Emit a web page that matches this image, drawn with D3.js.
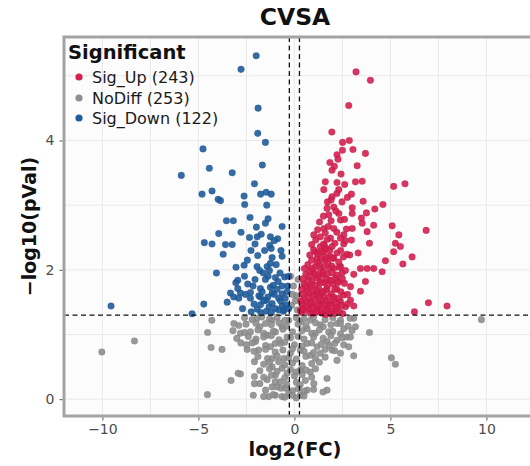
<!DOCTYPE html>
<html>
<head>
<meta charset="utf-8">
<script src="https://cdn.jsdelivr.net/npm/d3@7"></script>
<style>
  html, body { margin: 0; padding: 0; background: #fff; }
  svg { display: block; font-family: "DejaVu Sans", "Liberation Sans", Arial, sans-serif; }
</style>
</head>
<body>
<div id="chart"></div>
<script>
// categories and legend counts
const groups = ["Sig_Up", "NoDiff", "Sig_Down"];
const groupCounts = [243, 253, 122];
const groupColors = ["#d51f4f", "#8e8e8e", "#1f5c9c"];

const xTicks = [-10, -5, 0, 5, 10];
const yTicks = [0, 2, 4];
const xGrid = [-10, -7.5, -5, -2.5, 0, 2.5, 5, 7.5, 10];
const yGrid = [0, 1, 2, 3, 4, 5];

// [log2(FC), -log10(pVal)]
const sigUp = [
  [3.21,5.06],[3.96,4.93],[2.83,4.54],[1.95,4.13],[2.51,3.97],[2.86,4.00],[2.50,3.85],[3.05,3.86],[3.70,3.80],[2.22,3.78],
  [2.27,3.71],[1.85,3.66],[2.08,3.60],[3.27,3.61],[1.96,3.54],[2.43,3.48],[1.61,3.36],[2.22,3.35],[3.18,3.36],[3.53,3.37],
  [5.17,3.29],[5.76,3.33],[1.53,3.24],[2.31,3.24],[1.96,3.13],[2.97,3.17],[2.48,3.05],[1.91,3.08],[3.58,3.06],[1.70,2.95],
  [2.05,2.97],[3.01,2.96],[4.19,2.94],[4.61,3.01],[1.79,2.85],[2.31,2.87],[3.01,2.87],[3.75,2.88],[2.40,2.77],[3.49,2.80],
  [3.53,2.72],[4.13,2.69],[5.09,2.68],[6.86,2.61],[1.53,2.64],[2.05,2.64],[3.01,2.64],[2.57,2.54],[3.79,2.59],[5.44,2.54],
  [1.35,2.51],[1.88,2.49],[2.40,2.49],[2.97,2.46],[3.91,2.41],[5.26,2.41],[1.35,2.36],[1.96,2.36],[2.57,2.40],[5.52,2.36],
  [1.09,2.28],[1.53,2.28],[2.22,2.26],[2.88,2.23],[3.32,2.26],[5.17,2.28],[6.13,2.20],[1.18,2.18],[1.61,2.15],[2.05,2.18],
  [4.74,2.14],[5.65,2.09],[1.09,2.05],[1.53,2.05],[2.05,2.02],[2.40,2.05],[3.44,2.02],[3.79,2.02],[4.13,2.02],[4.57,1.97],
  [1.01,1.95],[1.44,1.92],[1.96,1.95],[2.48,1.95],[3.09,1.93],[0.92,1.84],[1.35,1.82],[1.79,1.84],[2.31,1.82],[3.70,1.82],
  [0.83,1.74],[1.27,1.71],[1.70,1.71],[2.92,1.74],[3.44,1.67],[0.74,1.64],[1.18,1.61],[1.53,1.58],[2.05,1.58],[2.57,1.61],
  [0.83,1.51],[1.27,1.51],[1.88,1.48],[2.40,1.51],[2.92,1.53],[0.74,1.40],[1.18,1.40],[1.70,1.40],[2.22,1.42],[2.66,1.43],
  [3.09,1.44],[0.83,1.33],[1.44,1.33],[1.88,1.32],[6.98,1.49],[7.95,1.44],[6.25,1.35],
  [0.36,1.34],[0.55,1.37],[0.97,1.33],[1.28,1.36],[1.56,1.35],[1.63,1.31],[2.02,1.36],[2.12,1.33],[2.36,1.35],[2.52,1.32],
  [0.40,1.47],[0.61,1.50],[0.95,1.46],[1.06,1.55],[1.40,1.47],[1.66,1.52],[1.77,1.46],[2.15,1.49],[2.30,1.56],[2.76,1.47],
  [0.45,1.62],[0.63,1.69],[0.98,1.66],[1.40,1.64],[1.61,1.68],[1.91,1.63],[2.21,1.70],[2.42,1.66],[2.77,1.62],
  [0.50,1.78],[0.71,1.83],[1.05,1.77],[1.15,1.88],[1.55,1.80],[1.66,1.86],[2.01,1.78],[2.16,1.87],[2.61,1.79],
  [0.60,1.93],[0.81,1.98],[1.25,1.91],[1.36,2.01],[1.70,1.94],[1.82,2.03],[2.22,1.92],[2.66,1.99],
  [0.70,2.08],[0.90,2.15],[1.30,2.09],[1.42,2.18],[1.75,2.11],[1.95,2.06],[2.31,2.12],
  [0.80,2.23],[1.00,2.31],[1.21,2.25],[1.66,2.33],[1.86,2.21],[2.41,2.30],[2.72,2.24],
  [0.90,2.39],[1.11,2.46],[1.56,2.38],[1.71,2.47],[2.11,2.41],[2.66,2.45],
  [1.01,2.54],[1.21,2.62],[1.61,2.57],[1.76,2.67],[2.21,2.58],[2.71,2.63],
  [1.31,2.74],[1.51,2.83],[1.91,2.76],[2.16,2.91],[2.61,2.78],
  [1.72,3.05],[2.21,3.18],[2.62,3.32],[2.76,3.12],
  [0.42,1.40],[0.50,1.56],[0.58,1.74],[0.66,1.44],[0.74,1.58],[0.78,1.90],[0.86,1.48],[0.88,1.76],[0.92,2.02],[1.00,1.42],
  [1.02,1.60],[1.08,1.94],[1.12,1.34],[1.16,1.68],[1.20,2.12],[1.24,1.45],[1.32,1.56],[1.34,1.80],[1.38,2.28],[1.46,1.38],
  [1.48,1.66],[1.50,1.96],[1.52,2.40],[1.58,1.48],[1.64,2.20],[1.68,1.38],[1.72,1.76],[1.80,1.58],[1.84,2.30],[1.90,1.44],
  [1.94,1.84],[2.00,2.18],[2.06,1.54],[2.10,1.70],[2.18,1.40],[2.26,1.80],[2.34,2.04],[2.45,1.45],[2.50,1.86],[2.55,2.20],
  [0.32,1.38],[0.34,1.52],[0.38,1.70],[0.44,1.86],[0.52,2.02]
];

const noDiff = [
  [-4.30,1.22],[-4.52,1.03],[-4.34,0.80],[-3.77,0.77],[-8.33,0.90],[-10.03,0.73],[-4.53,0.07],[-3.30,0.29],[-2.81,0.39],[-2.08,0.35],
  [-2.08,0.24],[-2.14,0.06],[-2.08,0.58],[-3.15,1.17],[-2.52,1.16],[-2.81,1.02],[-2.29,1.04],[-2.79,0.87],[-2.03,0.89],[-2.46,0.77],
  [-1.86,0.76],[-1.94,1.25],[-1.51,1.17],[-1.16,1.22],[-0.99,1.04],[-1.42,0.99],[-0.64,1.12],[-0.38,0.96],[-0.73,0.86],[-1.25,0.81],
  [-0.30,1.22],[0.31,1.20],[0.66,1.09],[0.83,1.22],[1.09,1.02],[1.35,1.15],[1.79,1.04],[2.22,1.17],[2.57,1.09],[2.74,0.96],
  [2.22,0.91],[1.70,0.89],[1.18,0.81],[0.66,0.86],[0.31,0.76],[0.83,0.68],[1.35,0.71],[1.96,0.76],[2.40,0.71],[2.22,0.60],
  [-0.21,0.71],[-0.56,0.63],[-1.16,0.63],[-0.82,0.58],[-1.16,0.50],[-0.64,0.48],[-0.99,0.37],[-0.38,0.40],[0.31,0.45],[0.83,0.42],
  [0.57,0.29],[1.01,0.24],[1.70,0.32],[1.70,0.14],[-1.42,0.30],[-1.16,0.19],[-0.73,0.27],[-0.47,0.17],[-0.99,0.06],[-0.64,0.04],
  [-0.30,0.09],[0.31,0.06],[0.66,0.14],[-1.34,0.04],[-0.90,0.19],[9.74,1.23],[3.91,1.03],[5.05,0.64],[5.26,0.54],[3.09,0.67],
  [2.92,0.96],[2.57,0.84],[2.83,0.81],[3.09,1.25],[3.18,1.12],[1.49,0.11],[-2.93,0.40],
  [-0.15,1.45],[0.10,1.60],[-0.05,1.75],[0.15,1.38],[-0.20,1.90],[0.05,1.52],[0.20,1.85],[-0.10,1.62],
  [-2.6,1.26],[-2.2,1.23],[-1.7,1.27],[-1.3,1.24],[-0.9,1.27],[-0.5,1.22],[0.1,1.26],[0.5,1.24],[1.0,1.27],[1.6,1.23],[2.0,1.26],[2.4,1.22],[2.9,1.25],
  [-2.9,1.14],[-2.0,1.17],[-1.8,1.12],[-1.2,1.15],[-0.8,1.18],[-0.4,1.13],[0.2,1.16],[0.6,1.14],[1.1,1.18],[1.5,1.12],[1.9,1.15],[2.4,1.17],[2.8,1.13],
  [-3.2,1.06],[-2.6,1.03],[-1.9,1.07],[-1.6,1.02],[-1.1,1.05],[-0.6,1.08],[-0.1,1.04],[0.4,1.06],[0.9,1.02],[1.3,1.07],[2.0,1.05],[2.4,1.01],[3.0,1.06],
  [-3.0,0.94],[-2.4,0.97],[-2.0,0.93],[-1.6,0.96],[-1.2,0.98],[-0.8,0.92],[-0.2,0.95],[0.2,0.97],[0.5,0.93],[1.0,0.96],[1.5,0.94],[1.9,0.98],[2.5,0.95],
  [-2.5,0.84],[-2.2,0.87],[-1.5,0.83],[-1.0,0.86],[-0.5,0.88],[0.0,0.84],[0.4,0.82],[0.9,0.87],[1.4,0.85],[1.8,0.83],[2.1,0.86],
  [-2.1,0.74],[-1.5,0.77],[-1.0,0.73],[-0.6,0.76],[-0.1,0.78],[0.5,0.74],[1.0,0.72],[1.6,0.77],[2.1,0.75],
  [-1.9,0.66],[-1.4,0.63],[-0.9,0.67],[-0.3,0.64],[0.1,0.62],[0.6,0.66],[1.1,0.63],[1.6,0.65],
  [-1.6,0.54],[-1.3,0.57],[-0.5,0.53],[-0.1,0.56],[0.4,0.52],[0.9,0.55],[1.3,0.57],
  [-1.8,0.44],[-1.3,0.47],[-0.9,0.43],[-0.2,0.46],[0.1,0.42],[0.6,0.45],[1.1,0.47],
  [-1.6,0.34],[-1.2,0.37],[-0.5,0.33],[0.0,0.36],[0.4,0.38],[0.9,0.34],
  [-1.8,0.24],[-1.0,0.27],[-0.4,0.23],[0.1,0.26],[0.3,0.22],
  [-1.5,0.14],[-0.7,0.17],[-0.1,0.13],[0.2,0.16],[0.5,0.12],[1.0,0.15],
  [-1.6,0.04],[-1.1,0.07],[-0.5,0.03],[-0.1,0.06],[0.1,0.02],[0.5,0.05]
];

const sigDown = [
  [-1.99,5.31],[-2.78,5.10],[-1.89,4.50],[-1.91,4.11],[-1.51,3.97],[-4.76,3.87],[-4.43,3.57],[-1.67,3.62],[-3.24,3.50],[-5.89,3.46],
  [-2.08,3.33],[-4.81,3.17],[-4.29,3.22],[-3.97,3.09],[-3.85,3.07],[-2.62,3.14],[-2.59,3.01],[-1.76,3.17],[-1.47,3.20],[-1.21,3.17],
  [-1.44,3.00],[-3.54,2.76],[-3.18,2.76],[-2.31,2.81],[-1.51,2.72],[-1.37,2.79],[-0.64,2.67],[-1.98,2.66],[-3.94,2.56],[-2.78,2.58],
  [-2.34,2.50],[-1.94,2.51],[-1.73,2.55],[-1.25,2.51],[-0.87,2.48],[-4.69,2.42],[-4.29,2.40],[-3.59,2.39],[-3.24,2.39],[-1.29,2.38],
  [-1.21,2.33],[-2.26,2.30],[-3.71,2.24],[-1.91,2.22],[-1.16,2.19],[-0.64,2.21],[-3.04,2.04],[-2.62,2.07],[-1.42,2.05],[-1.81,1.99],
  [-1.30,1.99],[-4.06,1.95],[-1.37,1.90],[-0.99,1.88],[-0.51,1.89],[-2.95,1.84],[-2.43,1.78],[-1.51,1.85],[-0.85,1.82],[-0.64,1.75],
  [-2.95,1.71],[-1.77,1.71],[-1.25,1.73],[-3.33,1.64],[-2.81,1.64],[-2.29,1.65],[-1.68,1.66],[-1.16,1.64],[-0.64,1.63],[-0.38,1.66],
  [-3.16,1.58],[-2.90,1.56],[-2.29,1.56],[-1.77,1.58],[-1.46,1.53],[-0.82,1.56],[-4.72,1.47],[-1.77,1.46],[-1.16,1.48],[-0.64,1.44],
  [-0.42,1.46],[-1.94,1.39],[-0.99,1.40],[-5.33,1.32],[-9.55,1.44],[-1.46,1.36],[-0.57,1.36],
  [-1.05,1.62],[-1.60,1.52],[-2.10,1.47],[-0.72,1.52],[-1.32,1.43],[-0.90,1.70],[-2.55,1.62],[-1.85,1.60],[-0.48,1.56],[-1.10,1.76],
  [-2.05,1.85],[-1.62,1.95],[-0.75,1.95],[-1.95,2.05],[-0.95,2.08],[-2.45,2.15],[-1.55,2.30],[-1.05,2.45],[-2.05,2.40],[-0.55,1.38],
  [-1.20,1.34],[-2.70,1.40],[-3.50,1.50],[-0.30,1.40],[-0.35,1.75],[-0.30,1.90],[-1.75,1.34],[-2.25,1.35],
  [-2.15,1.75],[-1.38,1.58],[-0.80,1.38],[-2.60,1.90],[-3.05,1.80],[-1.25,2.10],[-0.70,2.30]
];

const width = 530;
const height = 466;
const panel = { left: 64, top: 37, bottom: 416, right: 540 };
const pointRadius = 3.3;

const fcCut = Math.log2(1.2);
const pCut = -Math.log10(0.05);

const svg = d3.select("#chart")
  .append("svg")
  .attr("width", width)
  .attr("height", height);

const x = d3.scaleLinear().domain([-12, 12.5]).range([panel.left, 534.4]);
const y = d3.scaleLinear().domain([-0.26, 5.6]).range([panel.bottom, panel.top]);

svg.append("clipPath").attr("id", "clip")
  .append("rect")
  .attr("x", panel.left).attr("y", panel.top)
  .attr("width", panel.right - panel.left).attr("height", panel.bottom - panel.top);

// panel background
svg.append("rect")
  .attr("x", panel.left).attr("y", panel.top)
  .attr("width", panel.right - panel.left).attr("height", panel.bottom - panel.top)
  .attr("fill", "#fcfcfc");

// grid
const grid = svg.append("g").attr("class", "grid");
grid.selectAll("line.gx").data(xGrid).enter().append("line")
  .attr("class", "gx")
  .attr("x1", d => x(d)).attr("x2", d => x(d))
  .attr("y1", panel.top).attr("y2", panel.bottom)
  .attr("stroke", "#e9e9e9").attr("stroke-width", 1);
grid.selectAll("line.gy").data(yGrid).enter().append("line")
  .attr("class", "gy")
  .attr("x1", panel.left).attr("x2", panel.right)
  .attr("y1", d => y(d)).attr("y2", d => y(d))
  .attr("stroke", "#e9e9e9").attr("stroke-width", 1);

// points
const pts = svg.append("g").attr("clip-path", "url(#clip)");
const layers = [
  { data: noDiff, color: groupColors[1] },
  { data: sigUp, color: groupColors[0] },
  { data: sigDown, color: groupColors[2] }
];
layers.forEach(layer => {
  pts.append("g").selectAll("circle")
    .data(layer.data).enter().append("circle")
    .attr("cx", d => x(d[0]))
    .attr("cy", d => y(d[1]))
    .attr("r", pointRadius)
    .attr("fill", layer.color)
    .attr("fill-opacity", 0.9)
    .attr("stroke", d3.color(layer.color).darker(0.6))
    .attr("stroke-opacity", 0.5)
    .attr("stroke-width", 0.6);
});

// threshold lines
const th = svg.append("g").attr("clip-path", "url(#clip)");
[-fcCut, fcCut].forEach(v => {
  th.append("line")
    .attr("x1", x(v)).attr("x2", x(v))
    .attr("y1", panel.top).attr("y2", panel.bottom)
    .attr("stroke", "#111").attr("stroke-width", 1.3)
    .attr("stroke-dasharray", "5,3.5");
});
th.append("line")
  .attr("x1", panel.left).attr("x2", panel.right)
  .attr("y1", y(pCut)).attr("y2", y(pCut))
  .attr("stroke", "#111").attr("stroke-width", 1.3)
  .attr("stroke-dasharray", "5,3.5");

// panel border (left, top, bottom)
const borderColor = "#a3a3a3";
svg.append("path")
  .attr("d", `M${panel.right},${panel.top} H${panel.left} V${panel.bottom} H${panel.right}`)
  .attr("fill", "none")
  .attr("stroke", borderColor)
  .attr("stroke-width", 3);

// axes
const xAxis = svg.append("g")
  .attr("transform", `translate(0,${panel.bottom + 1.5})`)
  .call(d3.axisBottom(x).tickValues(xTicks).tickSize(3).tickPadding(4));
const yAxis = svg.append("g")
  .attr("transform", `translate(${panel.left - 1.5},0)`)
  .call(d3.axisLeft(y).tickValues(yTicks).tickFormat(d3.format("d")).tickSize(3).tickPadding(5));
[xAxis, yAxis].forEach(a => {
  a.select(".domain").remove();
  a.selectAll(".tick line").attr("stroke", "#555");
  a.selectAll(".tick text")
    .attr("fill", "#4d4d4d")
    .style("font-size", "14px")
    .style("font-family", "'DejaVu Sans', sans-serif");
});

// titles
svg.append("text")
  .attr("x", 295).attr("y", 25)
  .attr("text-anchor", "middle")
  .style("font-size", "23.5px").style("font-weight", "bold")
  .attr("fill", "#111")
  .text("CVSA");

svg.append("text")
  .attr("x", 295).attr("y", 456)
  .attr("text-anchor", "middle")
  .style("font-size", "19.5px").style("font-weight", "bold")
  .attr("fill", "#111")
  .text("log2(FC)");

svg.append("text")
  .attr("transform", `translate(36,${(panel.top + panel.bottom) / 2}) rotate(-90)`)
  .attr("text-anchor", "middle")
  .style("font-size", "19px").style("font-weight", "bold")
  .attr("fill", "#111")
  .text("\u2212log10(pVal)");

// legend
const legend = svg.append("g").attr("transform", "translate(67,0)");
legend.append("text")
  .attr("x", 1).attr("y", 59)
  .style("font-size", "19.5px").style("font-weight", "bold")
  .attr("fill", "#111")
  .text("Significant");
const legendY = [77, 98, 118];
groups.forEach((g, i) => {
  legend.append("circle")
    .attr("cx", 12).attr("cy", legendY[i])
    .attr("r", 3.6)
    .attr("fill", groupColors[i]);
  legend.append("text")
    .attr("x", 25).attr("y", legendY[i])
    .attr("dy", "0.36em")
    .style("font-size", "16px")
    .attr("fill", "#1a1a1a")
    .text(`${g} (${groupCounts[i]})`);
});
</script>
</body>
</html>
